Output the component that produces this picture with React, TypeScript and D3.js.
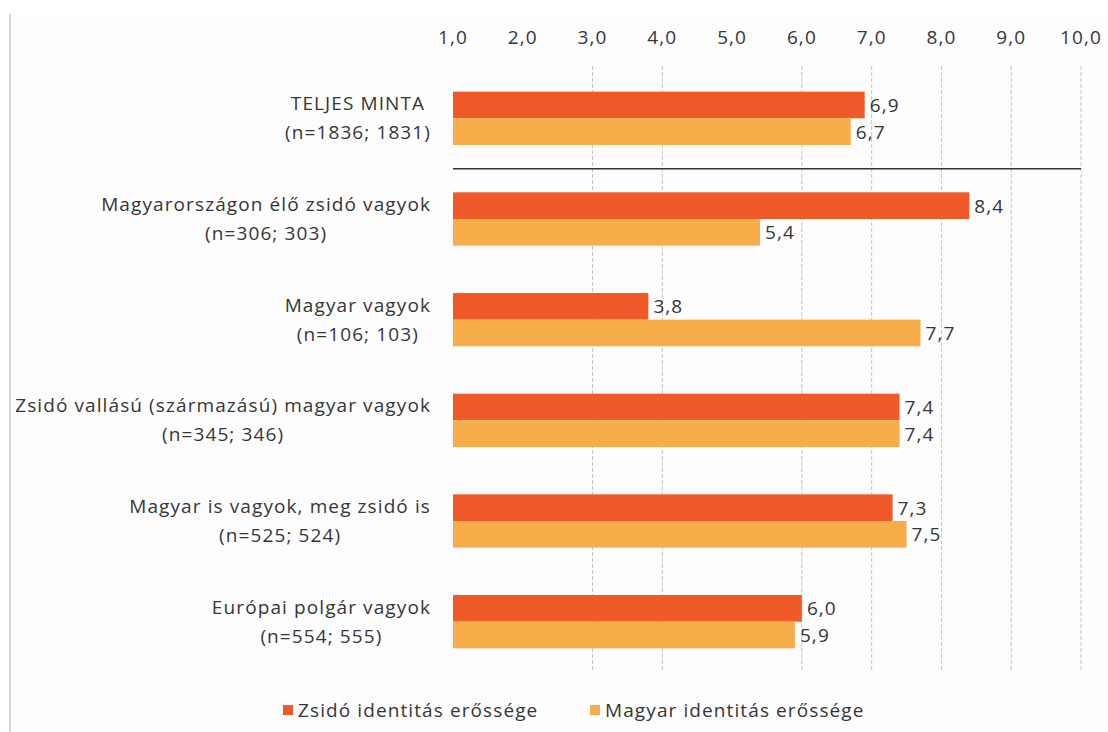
import { useEffect, useRef } from 'react'
import * as d3 from 'd3'

const categories = [
  'TELJES MINTA',
  'Magyarországon élő zsidó vagyok',
  'Magyar vagyok',
  'Zsidó vallású (származású) magyar vagyok',
  'Magyar is vagyok, meg zsidó is',
  'Európai polgár vagyok',
]
const sampleSizes = [
  '(n=1836; 1831)',
  '(n=306; 303)',
  '(n=106; 103)',
  '(n=345; 346)',
  '(n=525; 524)',
  '(n=554; 555)',
]
const zsidoValues = [6.9, 8.4, 3.8, 7.4, 7.3, 6.0]
const magyarValues = [6.7, 5.4, 7.7, 7.4, 7.5, 5.9]
const xTicks = [1, 2, 3, 4, 5, 6, 7, 8, 9, 10]
const gridTicks = [3, 4, 6, 7, 8, 9, 10]
const seriesNames = ['Zsidó identitás erőssége', 'Magyar identitás erőssége']

const RED = '#ef5a28'
const ORANGE = '#f7ad4a'
const TEXT = '#363636'
const FONT = '"Open Sans", sans-serif'
const FONT_SIZE = '19px'
const SPACING = '1.1px'

export default function App() {
  const svgRef = useRef<SVGSVGElement>(null)

  useEffect(() => {
    if (!svgRef.current) return
    const svg = d3.select(svgRef.current)
    svg.selectAll('*').remove()

    const width = 1108
    const height = 732
    const fmt = (v: number) => v.toFixed(1).replace('.', ',')

    const styleText = (sel: d3.Selection<any, any, any, any>) =>
      sel.style('font-family', FONT)
        .style('font-size', FONT_SIZE)
        .style('letter-spacing', SPACING)
        .style('fill', TEXT)

    // background + left border
    svg.append('rect')
      .attr('x', 10).attr('y', 14)
      .attr('width', width - 10).attr('height', height - 14)
      .attr('fill', '#fdfdfd')
    svg.append('line')
      .attr('x1', 10).attr('x2', 10)
      .attr('y1', 14).attr('y2', height)
      .attr('stroke', '#d6d6d6').attr('stroke-width', 2)

    const x = d3.scaleLinear().domain([1, 10]).range([453, 1081])
    const y = d3.scaleBand()
      .domain(categories)
      .range([68, 672])
      .paddingInner(0.47)
      .paddingOuter(0.235)
    const ySub = d3.scaleBand()
      .domain(['zsido', 'magyar'])
      .range([0, y.bandwidth()])

    // grid lines
    svg.append('g')
      .selectAll('line')
      .data(gridTicks)
      .join('line')
      .attr('x1', d => x(d)).attr('x2', d => x(d))
      .attr('y1', 66).attr('y2', 670)
      .attr('stroke', '#c4c4c4')
      .attr('stroke-width', 1)
      .attr('stroke-dasharray', '4,2')

    // tick labels on top
    svg.append('g')
      .selectAll('text')
      .data(xTicks)
      .join('text')
      .attr('x', d => x(d))
      .attr('y', 44)
      .attr('text-anchor', 'middle')
      .call(styleText)
      .text(d => fmt(d))

    // bars
    const series = [
      { key: 'zsido', values: zsidoValues, color: RED },
      { key: 'magyar', values: magyarValues, color: ORANGE },
    ]
    series.forEach(s => {
      const g = svg.append('g')
      categories.forEach((cat, i) => {
        const v = s.values[i]
        const by = y(cat)! + ySub(s.key)!
        g.append('rect')
          .attr('x', x(1))
          .attr('y', by)
          .attr('width', x(v) - x(1))
          .attr('height', ySub.bandwidth())
          .attr('fill', s.color)
        g.append('text')
          .attr('x', x(v) + 5)
          .attr('y', by + ySub.bandwidth() / 2 + 7)
          .call(styleText)
          .text(fmt(v))
      })
    })

    // separator after the full sample
    const sepY = (y(categories[0])! + y.bandwidth() + y(categories[1])!) / 2
    svg.append('line')
      .attr('x1', x(1)).attr('x2', x(10))
      .attr('y1', sepY).attr('y2', sepY)
      .attr('stroke', '#333').attr('stroke-width', 1.5)

    // category labels: centered block, right-aligned
    categories.forEach((cat, i) => {
      const cy = y(cat)! + y.bandwidth() / 2
      const g = svg.append('g')
      const t1 = g.append('text')
        .attr('y', cy - 8)
        .attr('text-anchor', 'middle')
        .call(styleText)
        .text(cat)
      const t2 = g.append('text')
        .attr('y', cy + 21)
        .attr('text-anchor', 'middle')
        .call(styleText)
        .text(sampleSizes[i])
      const w = Math.max(
        (t1.node() as SVGTextElement).getComputedTextLength(),
        (t2.node() as SVGTextElement).getComputedTextLength()
      )
      const cx = 431 - w / 2
      t1.attr('x', cx)
      t2.attr('x', cx)
    })

    // legend
    const legendX = [283, 590]
    seriesNames.forEach((name, i) => {
      const g = svg.append('g').attr('transform', `translate(${legendX[i]}, 710)`)
      g.append('rect')
        .attr('x', 0).attr('y', -5)
        .attr('width', 10).attr('height', 10)
        .attr('fill', series[i].color)
      g.append('text')
        .attr('x', 15).attr('y', 7)
        .call(styleText)
        .text(name)
    })
  }, [])

  return (
    <svg
      ref={svgRef}
      width={1108}
      height={732}
      style={{ position: 'absolute', left: 0, top: 0, background: '#fff' }}
    />
  )
}
